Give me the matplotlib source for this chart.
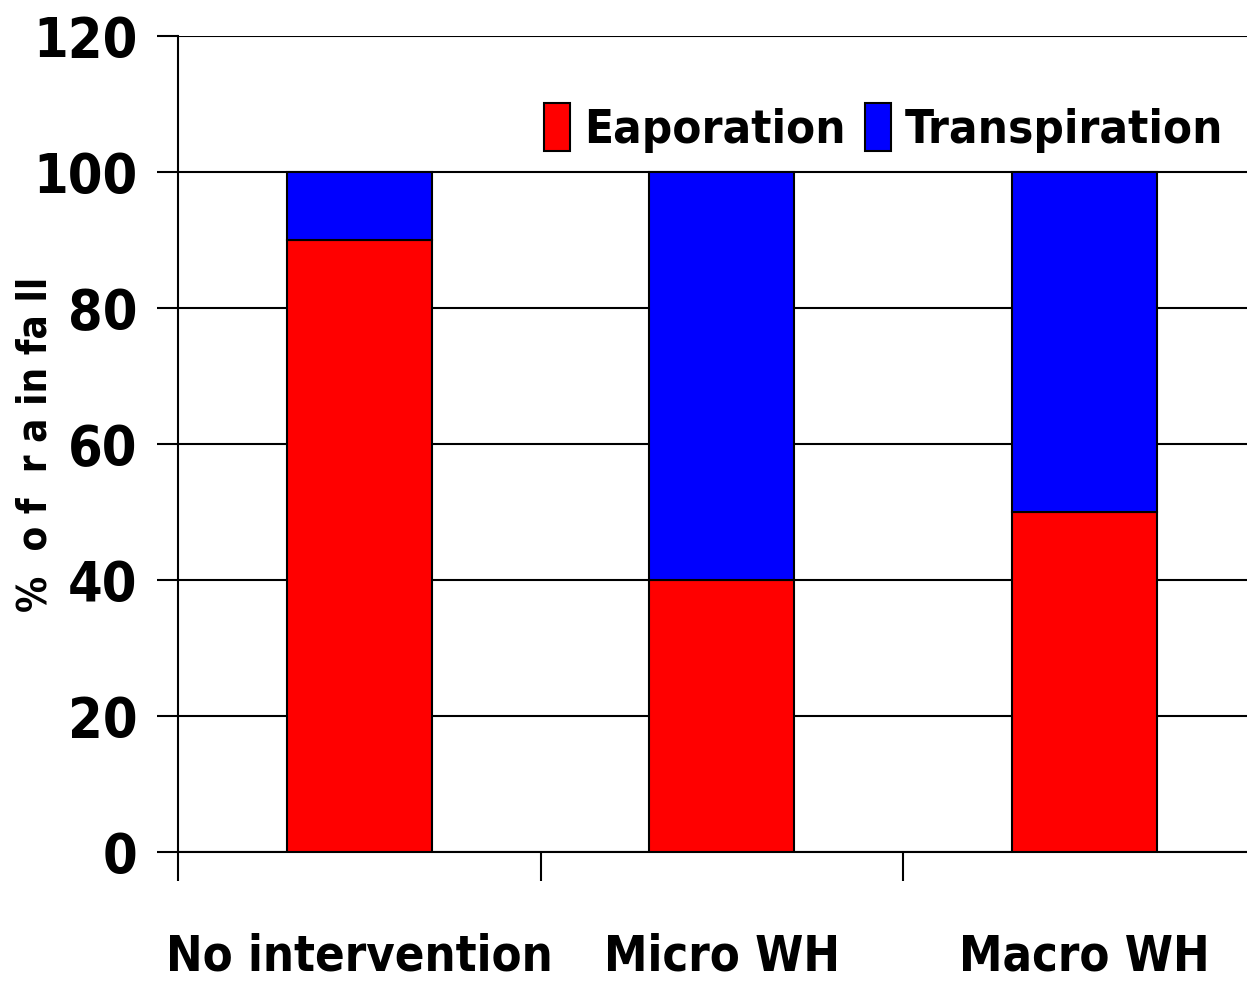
import matplotlib
matplotlib.use('Agg')
import matplotlib.pyplot as plt
from matplotlib.ticker import FixedLocator

categories = ['No intervention', 'Micro WH', 'Macro WH']
evaporation = [90, 40, 50]
transpiration = [10, 60, 50]
yticks = [0, 20, 40, 60, 80, 100, 120]

plt.rcParams['font.family'] = ['DejaVu Sans']
plt.rcParams['font.weight'] = 'bold'
plt.rcParams['font.stretch'] = 'condensed'

fig = plt.figure(figsize=(12.47, 9.83), dpi=100)
ax = fig.add_axes([178 / 1247, 131 / 983, 1087.5 / 1247, 816 / 983])

x = list(range(len(categories)))
ax.bar(x, evaporation, width=0.4, color='#ff0000', edgecolor='black', lw=1.5,
       label='Eaporation', zorder=3)
ax.bar(x, transpiration, width=0.4, bottom=evaporation, color='#0000ff',
       edgecolor='black', lw=1.5, label='Transpiration', zorder=3)

ax.set_xlim(-0.5, 2.5)
ax.set_ylim(0, 120)
ax.set_yticks(yticks)
ax.set_yticklabels([str(v) for v in yticks], fontsize=40, fontweight='bold')
ax.set_xticks(x)
ax.set_xticklabels(categories, fontsize=35, fontweight='bold')
ax.tick_params(axis='x', which='major', length=0, pad=58)
ax.xaxis.set_minor_locator(FixedLocator([-0.5, 0.5, 1.5, 2.5]))
ax.tick_params(axis='x', which='minor', length=21, width=1.5, direction='out')
ax.tick_params(axis='y', length=15, width=1.5, pad=14)
ax.yaxis.grid(True, color='black', lw=1.5, zorder=0)
ax.set_axisbelow(True)
for s in ['top', 'right']:
    ax.spines[s].set_visible(False)
ax.spines['left'].set_linewidth(1.5)
ax.spines['bottom'].set_linewidth(1.5)
ax.spines['left'].set_bounds(0, 120)

ax.set_ylabel('%  o f  r a in fa ll', fontsize=29, fontweight='bold')
ax.yaxis.set_label_coords(-0.113, 0.5)

leg = fig.legend(loc='center right', bbox_to_anchor=(1.0, 1 - 128 / 983),
                 ncol=2, frameon=False, fontsize=34, handlelength=0.55,
                 handleheight=1.2, handletextpad=0.3, columnspacing=0.4,
                 borderaxespad=0.1)

fig.savefig('out.png', dpi=100)
